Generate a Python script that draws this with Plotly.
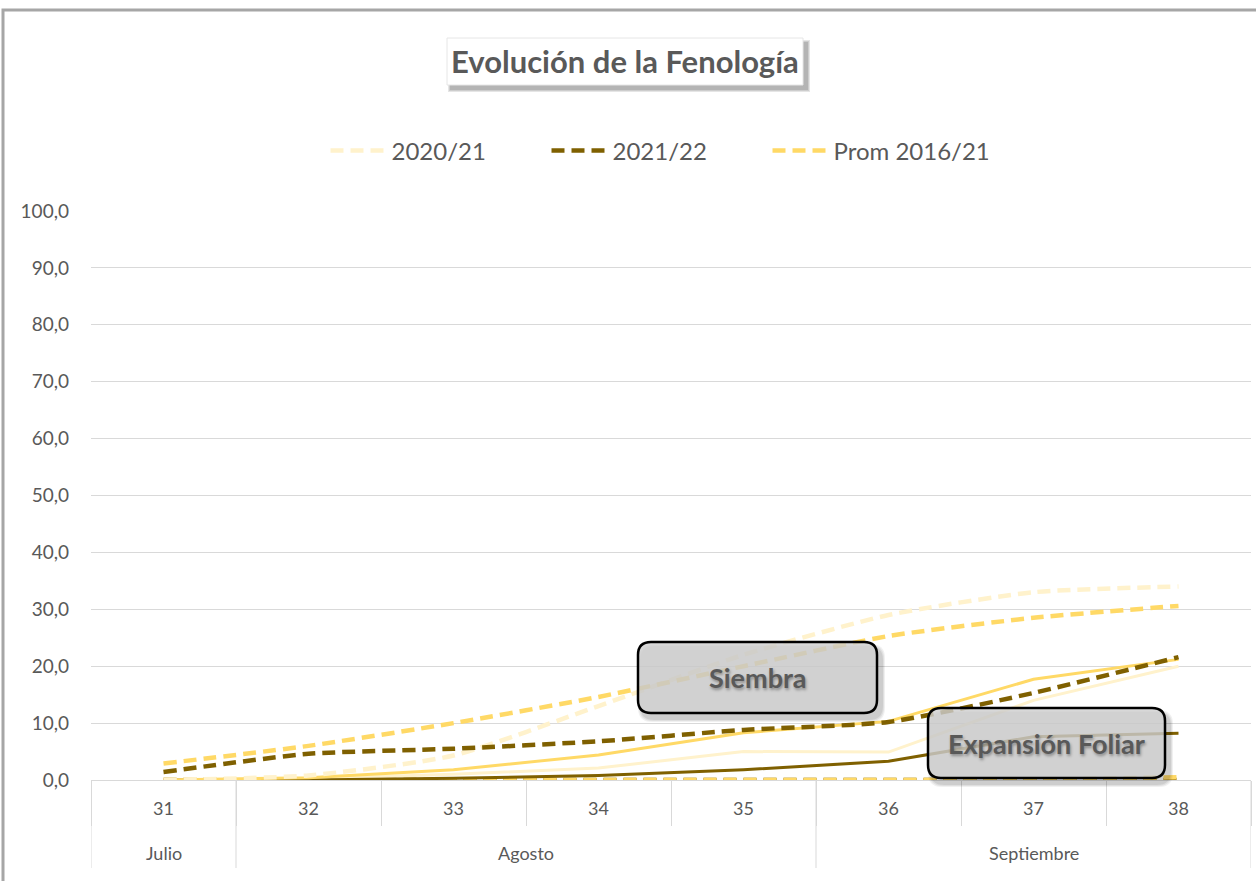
import plotly.graph_objects as go

# ---------------- data ----------------
weeks = ["31", "32", "33", "34", "35", "36", "37", "38"]
months = ["Julio", "Agosto", "Agosto", "Agosto", "Agosto",
          "Septiembre", "Septiembre", "Septiembre"]

# Siembra (dashed)
siembra_2020 = [0.0, 0.8, 4.3, 13.0, 22.0, 29.0, 33.0, 34.0]
siembra_2021 = [1.4, 4.6, 5.5, 6.8, 8.8, 10.2, 15.3, 21.6]
siembra_prom = [2.9, 6.0, 10.0, 14.6, 20.0, 25.3, 28.5, 30.6]

# Expansión Foliar (solid)
expansion_2020 = [0.0, 0.2, 1.0, 2.1, 5.0, 4.9, 14.0, 20.0]
expansion_2021 = [0.0, 0.0, 0.3, 0.8, 1.8, 3.3, 7.6, 8.2]
expansion_prom = [0.0, 0.4, 1.8, 4.4, 8.3, 10.3, 17.7, 21.2]

# later stage (dashed, still near zero)
etapa3_2020 = [0.0, 0.0, 0.0, 0.0, 0.0, 0.0, 0.0, 0.0]
etapa3_2021 = [0.0, 0.0, 0.0, 0.0, 0.0, 0.0, 0.0, 0.0]
etapa3_prom = [0.0, 0.0, 0.0, 0.0, 0.0, 0.0, 0.0, 0.5]

series_names = ["2020/21", "2021/22", "Prom 2016/21"]
colors = ["#FFF2CC", "#7F6000", "#FFD966"]

y_ticks = [0, 10, 20, 30, 40, 50, 60, 70, 80, 90, 100]

# ---------------- figure ----------------
W, H = 1256, 881
L, R, T, B = 91, 1251, 211, 780
FONT = "Lato, Carlito, Calibri, sans-serif"
GREY = "#595959"
LINEC = "#D9D9D9"

fig = go.Figure()

DASH = "13px,7px"
for vals, name, col in zip([etapa3_2020, etapa3_2021, etapa3_prom], series_names, colors):
    fig.add_trace(go.Scatter(x=weeks, y=vals, mode="lines", name=name, showlegend=False,
                             line=dict(color=col, width=4.5, dash=DASH),
                             hoverinfo="skip"))

for vals, name, col in zip([expansion_2020, expansion_2021, expansion_prom], series_names, colors):
    fig.add_trace(go.Scatter(x=weeks, y=vals, mode="lines", name=name, showlegend=False,
                             line=dict(color=col, width=3)))

for vals, name, col in zip([siembra_2020, siembra_2021, siembra_prom], series_names, colors):
    fig.add_trace(go.Scatter(x=weeks, y=vals, mode="lines", name=name, showlegend=True,
                             line=dict(color=col, width=4.5, dash=DASH, shape="spline",
                                       smoothing=0.6)))


def px2p(px, py):
    return (px - L) / (R - L), (B - py) / (B - T)


def rrect(x0, y0, x1, y1, r):
    """rounded rectangle path in paper coords, input in pixels"""
    rx = r / (R - L)
    ry = r / (B - T)
    a0, b1 = px2p(x0, y0)  # top-left
    a1, b0 = px2p(x1, y1)  # bottom-right
    return (f"M{a0+rx},{b1} L{a1-rx},{b1} Q{a1},{b1} {a1},{b1-ry} "
            f"L{a1},{b0+ry} Q{a1},{b0} {a1-rx},{b0} L{a0+rx},{b0} "
            f"Q{a0},{b0} {a0},{b0+ry} L{a0},{b1-ry} Q{a0},{b1} {a0+rx},{b1} Z")


def rect(x0, y0, x1, y1, **kw):
    a0, b1 = px2p(x0, y0)
    a1, b0 = px2p(x1, y1)
    return dict(type="rect", xref="paper", yref="paper", x0=a0, x1=a1, y0=b0, y1=b1, **kw)


shapes = []
annotations = []

# outer chart frame (top and left edges visible)
shapes.append(rect(3, 10, 1270, 900, line=dict(color="#A6A6A6", width=3),
                   fillcolor="rgba(0,0,0,0)", layer="below"))

# month groups: labels and dividers below the week labels
groups = []
for i, m in enumerate(months):
    if groups and groups[-1][0] == m:
        groups[-1][2] = i
    else:
        groups.append([m, i, i])
y_div_bottom = px2p(0, 868)[1]
bounds = sorted({g[1] - 0.5 for g in groups} | {g[2] + 0.5 for g in groups})
for b in bounds:
    shapes.append(dict(type="line", xref="x", yref="paper", x0=b, x1=b, y0=0,
                       y1=y_div_bottom, line=dict(color=LINEC, width=1), layer="below"))
for m, i0, i1 in groups:
    annotations.append(dict(xref="x", yref="paper", x=(i0 + i1) / 2, y=px2p(0, 853)[1],
                            text=m, showarrow=False, xanchor="center", yanchor="middle",
                            font=dict(family=FONT, size=18, color=GREY)))

# title box with shadow
for i, op in enumerate([0.10, 0.10, 0.12]):
    d = 2 - i
    shapes.append(rect(450 - d, 42 - d, 808 + d, 90 + d, line=dict(width=0),
                       fillcolor=f"rgba(0,0,0,{op})", layer="above"))
shapes.append(rect(447, 38, 803, 85, line=dict(color="#E6E6E6", width=1),
                   fillcolor="white", layer="above"))

# callout boxes
boxes = [(638, 642, 877, 713, "Siembra"), (928, 708, 1165, 778, "Expansión Foliar")]
for (bx0, by0, bx1, by1, txt) in boxes:
    for i, op in enumerate([0.06, 0.07, 0.08]):
        d = 3 - i
        shapes.append(dict(type="path", xref="paper", yref="paper",
                           path=rrect(bx0 + 3 - d, by0 + 5 - d, bx1 + 5 + d, by1 + 6 + d, 14),
                           line=dict(width=0), fillcolor=f"rgba(0,0,0,{op})", layer="above"))
    shapes.append(dict(type="path", xref="paper", yref="paper",
                       path=rrect(bx0, by0, bx1, by1, 13),
                       line=dict(color="#000000", width=2.5),
                       fillcolor="rgba(210,210,210,0.8)", layer="above"))

annotations.append(
    dict(xref="paper", yref="paper", x=px2p(625, 61)[0], y=px2p(625, 61)[1],
         text="<b>Evolución de la Fenología</b>", showarrow=False,
         font=dict(family=FONT, size=31, color=GREY), xanchor="center", yanchor="middle"))
for (bx0, by0, bx1, by1, txt) in boxes:
    cx, cy = px2p((bx0 + bx1) / 2, (by0 + by1) / 2)
    annotations.append(dict(xref="paper", yref="paper", x=cx, y=cy, text=f"<b>{txt}</b>",
                            showarrow=False, xanchor="center", yanchor="middle",
                            font=dict(family=FONT, size=27, color=GREY,
                                      shadow="1px 2px 3px rgba(0,0,0,0.35)")))

fig.update_layout(
    width=W, height=H,
    margin=dict(l=L, r=W - R, t=T, b=H - B, autoexpand=False),
    paper_bgcolor="white", plot_bgcolor="white",
    separators=",.",
    font=dict(family=FONT, color=GREY, size=18),
    showlegend=True,
    legend=dict(orientation="h", x=px2p(657, 0)[0], xanchor="center",
                y=px2p(0, 151)[1], yanchor="middle",
                font=dict(family=FONT, size=24, color=GREY),
                itemwidth=56, entrywidth=150, entrywidthmode="pixels",
                traceorder="normal", bgcolor="rgba(0,0,0,0)"),
    shapes=shapes,
    annotations=annotations,
    xaxis=dict(type="category", range=[-0.5, len(weeks) - 0.5], showgrid=False,
               showline=True, linecolor=LINEC, linewidth=1,
               ticks="outside", tickson="boundaries", ticklen=45, tickcolor=LINEC,
               ticklabelstandoff=12,
               tickfont=dict(family=FONT, size=18, color=GREY), zeroline=False),
    yaxis=dict(range=[0, 100], tickvals=y_ticks, tickformat=".1f", showgrid=True,
               gridcolor=LINEC, gridwidth=1, zeroline=False, showline=False,
               ticks="", ticklabelstandoff=21,
               tickfont=dict(family=FONT, size=19, color=GREY)),
)

fig.write_html("out.html", config={"displayModeBar": False},
               post_script="document.body.style.margin='0';")
